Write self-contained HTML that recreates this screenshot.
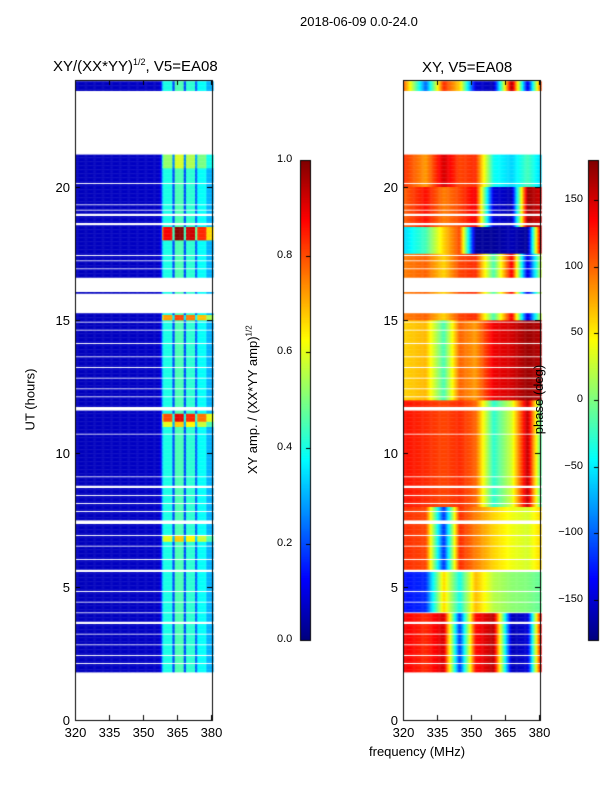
<!DOCTYPE html>
<html><head><meta charset="utf-8">
<style>
body{margin:0;background:#fff;font-family:"Liberation Sans",sans-serif;}
#root{position:relative;width:600px;height:800px;overflow:hidden;background:#fff;}
.t{position:absolute;font-size:13px;color:#000;white-space:nowrap;}
canvas{position:absolute;left:0;top:0;}
</style></head>
<body>
<div id="root">
<canvas id="cv" width="600" height="800"></canvas>
<div class="t" style="left:300px;top:14px;">2018-06-09 0.0-24.0</div>
<div class="t" style="left:53px;top:57px;font-size:15px;">XY/(XX*YY)<sup style="font-size:9px">1/2</sup>, V5=EA08</div>
<div class="t" style="left:422px;top:59px;font-size:15px;">XY, V5=EA08</div>
<div class="t" style="left:-1px;top:392px;transform:rotate(-90deg);">UT (hours)</div>
<div class="t" style="left:369px;top:744px;">frequency (MHz)</div>
<div class="t" style="left:178px;top:392px;transform:rotate(-90deg);">XY amp. / (XX*YY amp)<sup style="font-size:8px">1/2</sup></div>
<div class="t" style="left:504px;top:392px;transform:rotate(-90deg);">phase (deg)</div>
<div id="labels"></div>
</div>
<script>
// ---- data ----
const ampFreqs = [320,357,358,359,362.9,363,363.9,364,367.9,368,368.9,369,372.9,373,373.9,374,377.9,378,381];
const ampProfile = [0.06,0.07,0.12,0.4,0.4,0.2,0.2,0.45,0.45,0.2,0.2,0.42,0.42,0.22,0.22,0.38,0.38,0.3,0.3];
const brightHours = [[18.0,18.5,2.2],[11.2,11.5,2.0],[15.0,15.2,1.8],[6.7,6.9,1.5],[20.7,21.2,1.3],[11.0,11.2,1.5]];
const dataRanges = [[1.8,21.2],[23.6,23.95]];
const gapRanges = [[15.25,16.0],[16.05,16.6],[11.6,11.75],[7.35,7.5],[5.55,5.65],[18.55,18.65],[18.9,19.0],[19.1,19.15],[19.3,19.35],[20.1,20.15],[17.4,17.45],[17.2,17.25],[16.9,16.95],[14.9,14.95],[14.6,14.65],[14.1,14.15],[13.6,13.65],[13.2,13.25],[12.8,12.85],[12.4,12.45],[12.1,12.15],[10.7,10.75],[9.1,9.15],[8.7,8.8],[8.4,8.45],[8.1,8.15],[7.8,7.85],[6.9,6.95],[6.5,6.55],[6.0,6.05],[4.8,4.85],[4.4,4.45],[4.0,4.05],[3.6,3.7],[3.2,3.25],[2.8,2.85],[2.4,2.45],[2.1,2.15]];
const phaseFreqs = [320,330,338,345,352,360,368,375,381];
const phaseSegHours = [[23.1,24],[20.0,21.3],[18.5,20.0],[17.5,18.5],[15.0,17.5],[12.0,15.0],[8.0,12.0],[5.6,8.0],[4.0,5.6],[1.7,4.0]];
const phaseSeg = [
 [110,-100,120,60,-150,-160,170,-150,120],
 [120,80,150,110,120,-40,-60,-20,-60],
 [100,130,90,110,140,-150,-160,170,150],
 [-60,-20,60,110,-170,-170,-160,-170,170],
 [90,100,60,110,120,-20,140,-150,30],
 [60,70,-20,100,80,140,150,170,160],
 [130,120,110,120,100,-30,30,160,-20],
 [120,110,-120,120,90,60,40,30,60],
 [-130,-120,60,-40,70,20,5,0,-10],
 [140,120,150,-120,130,160,-160,-150,150]
];
const ampTicks = [0.0,0.2,0.4,0.6,0.8,1.0];
const phaseTicks = [150,100,50,0,-50,-100,-150];
const xTicks = [320,335,350,365,380];
const yTicks = [0,5,10,15,20];

// ---- axes ----
const P1 = {x0:75,x1:212}, P2 = {x0:403,x1:540};
const yTop=80, yBot=720;
function yScale(h){return yBot-(yBot-yTop)*h/24;}
function xScale(p,f){return p.x0+(f-320)*(p.x1-p.x0)/60.5;}
function interp(xs,ys,x){if(x<=xs[0])return ys[0];for(let i=1;i<xs.length;i++){if(x<=xs[i]){const t=(x-xs[i-1])/(xs[i]-xs[i-1]);return ys[i-1]+t*(ys[i]-ys[i-1]);}}return ys[ys.length-1];}
function jet(v){v=Math.max(0,Math.min(1,v));const r=Math.max(0,Math.min(1,1.5-Math.abs(4*v-3))),g=Math.max(0,Math.min(1,1.5-Math.abs(4*v-2))),b=Math.max(0,Math.min(1,1.5-Math.abs(4*v-1)));return `rgb(${r*255|0},${g*255|0},${b*255|0})`;}
const cv=document.getElementById('cv'),c=cv.getContext('2d');
function inR(h,rs){return rs.some(r=>h>=r[0]&&h<r[1]);}
const dh=0.05,df=0.5;
for(let h=0;h<24;h+=dh){
  const hm=h+dh/2;
  if(!inR(hm,dataRanges)||inR(hm,gapRanges))continue;
  let boost=1;brightHours.forEach(b=>{if(hm>=b[0]&&hm<b[1])boost=b[2];});
  let seg=phaseSeg[0];phaseSegHours.forEach((s,i)=>{if(hm>=s[0]&&hm<s[1])seg=phaseSeg[i];});
  const y0=yScale(h+dh),y1=yScale(h);
  for(let f=320;f<381;f+=df){
    const fm=f+df/2;
    let a=interp(ampFreqs,ampProfile,fm);
    if(fm>358.5)a*=boost;
    c.fillStyle=jet(a);
    c.fillRect(xScale(P1,f),y0,xScale(P1,f+df)-xScale(P1,f)+0.5,y1-y0+0.3);
    let ph=interp(phaseFreqs,seg,fm);
    c.fillStyle=jet((ph+180)/360);
    c.fillRect(xScale(P2,f),y0,xScale(P2,f+df)-xScale(P2,f)+0.5,y1-y0+0.3);
  }
}
// colorbars
for(let i=0;i<480;i++){const v=i/480;c.fillStyle=jet(v);c.fillRect(300,640-i-1,10,1.2);c.fillRect(588,640-i-1,10,1.2);}
c.strokeStyle='#000';c.lineWidth=1;
c.strokeRect(300.5,160.5,10,480);c.strokeRect(588.5,160.5,10,480);
[P1,P2].forEach(p=>{c.strokeRect(p.x0+0.5,yTop+0.5,p.x1-p.x0,yBot-yTop);});
const L=document.getElementById('labels');
function lab(txt,x,y,name,align){const d=document.createElement('div');d.className='t';d.textContent=txt;


d.style.left=x+'px';d.style.top=(y-8)+'px';if(align==='r'){d.style.transform='translateX(-100%)';}else if(align==='c'){d.style.transform='translateX(-50%)';}L.appendChild(d);}
c.beginPath();
[P1,P2].forEach((p,pi)=>{
  yTicks.forEach(t=>{const y=Math.round(yScale(t))+0.5;c.moveTo(p.x0,y);c.lineTo(p.x0+5,y);c.moveTo(p.x1,y);c.lineTo(p.x1-5,y);lab(String(t),p.x0-5,y,'y-tick-label','r');});
  xTicks.forEach(t=>{const x=Math.round(xScale(p,t))+0.5;c.moveTo(x,yBot);c.lineTo(x,yBot-5);c.moveTo(x,yTop);c.lineTo(x,yTop+5);lab(String(t),x,733,'x-tick-label','c');});
});
ampTicks.forEach(t=>{const y=Math.round(640-480*t)+0.5;c.moveTo(306,y);c.lineTo(310,y);lab(t.toFixed(1),252,y,'amp-colorbar-tick','l');L.lastChild.style.left='277px';L.lastChild.style.fontSize='11px';});
phaseTicks.forEach(t=>{const y=Math.round(400-480*t/360)+0.5;c.moveTo(594,y);c.lineTo(598,y);lab((t<0?'\u2212':'')+Math.abs(t),0,y,'phase-colorbar-tick','r');L.lastChild.style.left='583px';L.lastChild.style.fontSize='11px';});
c.stroke();
</script>
</body></html>
